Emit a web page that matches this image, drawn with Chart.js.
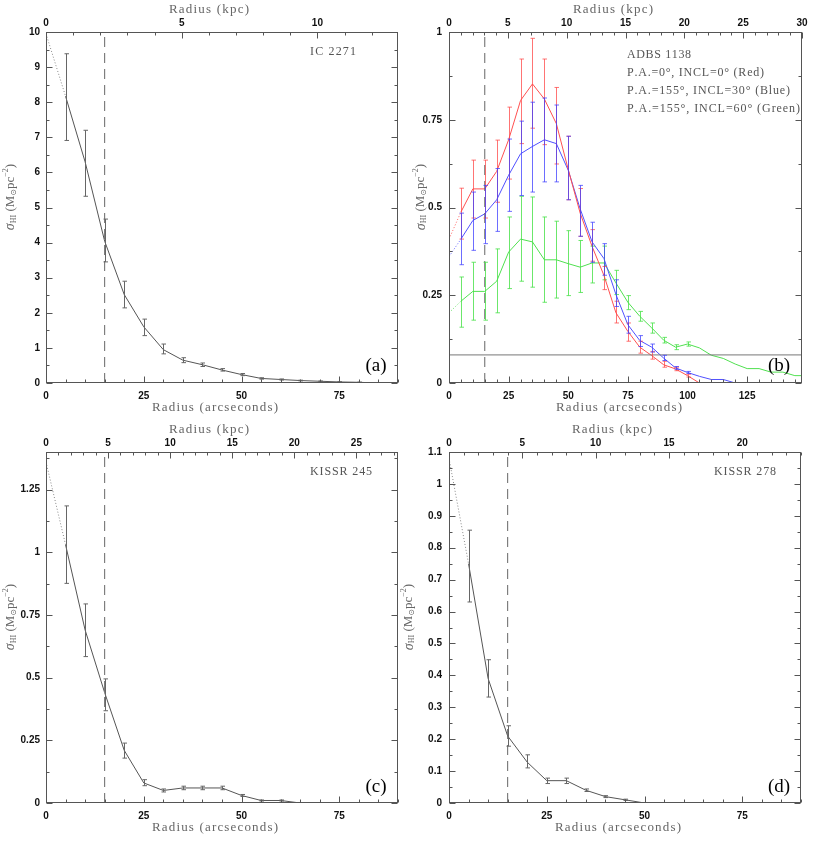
<!DOCTYPE html>
<html><head><meta charset="utf-8">
<script src="https://cdn.jsdelivr.net/npm/chart.js@4"></script>
<style>
html,body{margin:0;padding:0;background:#fff;}
#wrap{position:relative;width:830px;height:841px;overflow:hidden;background:#fff;}
canvas{position:absolute;left:0;top:0;}
</style></head><body><div id="wrap">
<canvas id="ca" width="830" height="841"></canvas>
<canvas id="cb" width="830" height="841"></canvas>
<canvas id="cc" width="830" height="841"></canvas>
<canvas id="cd" width="830" height="841"></canvas>
</div>
<script>
// ---------------- DATA ----------------
// Panel (a) IC 2271
const radA = [5,10,15,20,25,30,35,40,45,50,55,60,65,70,75,80,85];
const sigA = [8.17,6.3,4.04,2.52,1.6,0.95,0.65,0.52,0.37,0.24,0.13,0.10,0.07,0.05,0.03,0.02,0.0];
const loA  = [6.91,5.32,3.45,2.14,1.35,0.83,0.58,0.47,0.34,0.21,0.11,0.085,0.06,0.045,0.025,0.015,null];
const hiA  = [9.38,7.2,4.67,2.9,1.82,1.11,0.72,0.57,0.41,0.27,0.15,0.115,0.08,0.055,0.035,0.025,null];
const extRad = [0,5];
const extA = [9.95,8.17];

// Panel (b) ADBS 1138
const radRedB = [5,10,15,20,25,30,35,40,45,50,55,60,65,70,75,80,85,90,95,100,105];
const redB   = [0.487,0.553,0.553,0.603,0.693,0.805,0.852,0.809,0.739,0.608,0.484,0.389,0.306,0.2,0.147,0.102,0.078,0.052,0.04,0.021,0];
const redLoB = [0.41,0.47,0.47,0.515,0.581,0.682,0.726,0.679,0.624,0.522,0.418,0.347,0.266,0.171,0.119,0.085,0.068,0.045,0.035,0.017,null];
const redHiB = [0.555,0.635,0.635,0.692,0.786,0.923,0.982,0.923,0.842,0.703,0.554,0.437,0.332,0.233,0.171,0.119,0.09,0.062,0.045,0.025,null];
const radBlueB = [5,10,15,20,25,30,35,40,45,50,55,60,65,70,75,80,85,90,95,100,105,110,115,120];
const blueB   = [0.41,0.463,0.482,0.522,0.592,0.653,0.674,0.693,0.682,0.606,0.496,0.402,0.354,0.252,0.166,0.121,0.102,0.071,0.043,0.03,0.019,0.01,0.01,0];
const blueLoB = [0.337,0.378,0.397,0.432,0.489,0.534,0.544,0.573,0.573,0.522,0.418,0.344,0.307,0.218,0.142,0.104,0.088,0.064,0.039,0.027,null,null,null,null];
const blueHiB = [0.484,0.544,0.563,0.611,0.695,0.746,0.8,0.812,0.792,0.703,0.563,0.458,0.397,0.294,0.19,0.135,0.111,0.079,0.047,0.033,null,null,null,null];
const radGreenB = [5,10,15,20,25,30,35,40,45,50,55,60,65,70,75,80,85,90,95,100,105,110,115,120,125,130,135,140,145,150];
const greenB   = [0.233,0.261,0.261,0.29,0.373,0.41,0.402,0.351,0.351,0.34,0.33,0.342,0.342,0.285,0.23,0.19,0.157,0.122,0.102,0.111,0.1,0.079,0.07,0.054,0.041,0.041,0.031,0.031,0.021,0.021];
const greenLoB = [0.159,0.179,0.179,0.2,0.269,0.29,0.273,0.23,0.242,0.249,0.258,0.285,0.294,0.252,0.209,0.176,0.142,0.114,0.095,0.105,null,null,null,null,null,null,null,null,null,null];
const greenHiB = [0.302,0.344,0.344,0.382,0.473,0.532,0.53,0.473,0.461,0.434,0.406,0.39,0.39,0.321,0.249,0.204,0.171,0.13,0.109,0.117,null,null,null,null,null,null,null,null,null,null];
const extRedB = [0.41,0.487];
const extBlueB = [0.36,0.41];
const extGreenB = [0.2,0.233];
const limitB = 0.08;

// Panel (c) KISSR 245
const radC = [5,10,15,20,25,30,35,40,45,50,55,60,65];
const sigC = [1.03,0.69,0.44,0.21,0.08,0.05,0.06,0.06,0.06,0.03,0.01,0.01,0.0];
const loC  = [0.876,0.584,0.368,0.179,0.069,0.044,0.053,0.053,0.053,0.026,0.008,0.008,null];
const hiC  = [1.185,0.794,0.495,0.239,0.093,0.056,0.067,0.067,0.067,0.034,0.012,0.012,null];
const extC = [1.36,1.03];

// Panel (d) KISSR 278
const radD = [5,10,15,20,25,30,35,40,45,50];
const sigD = [0.75,0.39,0.21,0.128,0.07,0.07,0.04,0.02,0.01,0.0];
const loD  = [0.63,0.332,0.178,0.11,0.061,0.061,0.036,0.017,0.008,null];
const hiD  = [0.855,0.449,0.242,0.151,0.078,0.078,0.044,0.023,0.012,null];
const extD = [1.08,0.75];

// beam-size marker (arcsec)
const beamRadius = 15;

// tick labels
const arcTicks = [0,25,50,75];
const arcTicksB = [0,25,50,75,100,125];
const kpcTicksA = [0,5,10];
const kpcTicksB = [0,5,10,15,20,25,30];
const kpcTicksC = [0,5,10,15,20,25];
const kpcTicksD = [0,5,10,15,20];
const yTicksA = [0,1,2,3,4,5,6,7,8,9,10];
const yTicksB = [0,0.25,0.5,0.75,1];
const yTicksC = [0,0.25,0.5,0.75,1,1.25];
const yTicksD = [0,0.1,0.2,0.3,0.4,0.5,0.6,0.7,0.8,0.9,1,1.1];

// ---------------- RENDERING ----------------
const FRAME = '#555';
const TXT = '#666';
const SERIF = "'Liberation Serif','DejaVu Serif',serif";
const SANS = "'Liberation Sans',Arial,sans-serif";

function pts(xs, ys){ return xs.map((x,i)=>({x:x, y:ys[i]})); }
function range(a,b,s){ const r=[]; for(let v=a; v<=b+1e-9; v+=s) r.push(+v.toFixed(6)); return r; }

function drawFit(ctx, text, x, y, font, width, align){
  ctx.font = font;
  const ch = [...text];
  const ws = ch.map(c=>ctx.measureText(c).width);
  const nat = ws.reduce((a,b)=>a+b,0);
  const sp = ch.length>1 ? (width-nat)/(ch.length-1) : 0;
  let cx = align==='center' ? x-width/2 : x;
  ctx.textAlign='left'; ctx.textBaseline='middle';
  ch.forEach((c,i)=>{ ctx.fillText(c,cx,y); cx += ws[i]+sp; });
}

function drawYTitle(ctx, cx, cy){
  const segs = [
    {t:'σ', f:'italic 14px '+SERIF, dy:0},
    {t:'HI', f:'8px '+SERIF, dy:3},
    {t:' (M', f:'13px '+SERIF, dy:0},
    {t:'⊙', f:'8px DejaVu Sans', dy:3},
    {t:'pc', f:'13px '+SERIF, dy:0},
    {t:'−2', f:'8px '+SERIF, dy:-5},
    {t:')', f:'13px '+SERIF, dy:0}
  ];
  let total = 0;
  segs.forEach(s=>{ ctx.font=s.f; s.w=ctx.measureText(s.t).width; total+=s.w; });
  ctx.save();
  ctx.translate(cx,cy); ctx.rotate(-Math.PI/2);
  ctx.fillStyle = TXT; ctx.textAlign='left'; ctx.textBaseline='middle';
  let x = -total/2;
  segs.forEach(s=>{ ctx.font=s.f; ctx.fillText(s.t,x,s.dy); x+=s.w; });
  ctx.restore();
}

function makePanel(id, sp){
  const plugin = {
    id: 'panel_'+id,
    afterDatasetsDraw(chart){
      const ctx = chart.ctx, xs = chart.scales.x, ys = chart.scales.y;
      ctx.save();
      ctx.lineWidth = 1;
      sp.errors.forEach(e=>{
        ctx.strokeStyle = e.color;
        e.x.forEach((xv,i)=>{
          if (e.lo[i]==null) return;
          const px = Math.round(xs.getPixelForValue(xv))+0.5;
          const y1 = ys.getPixelForValue(e.lo[i]), y2 = ys.getPixelForValue(e.hi[i]);
          ctx.beginPath();
          ctx.moveTo(px,y1); ctx.lineTo(px,y2);
          ctx.moveTo(px-2,y1); ctx.lineTo(px+2.5,y1);
          ctx.moveTo(px-2,y2); ctx.lineTo(px+2.5,y2);
          ctx.stroke();
        });
      });
      ctx.restore();
    },
    afterDraw(chart){
      const ctx = chart.ctx, a = chart.chartArea;
      const xs = chart.scales.x, x2 = chart.scales.x2, ys = chart.scales.y;
      const L = Math.round(a.left)+0.5, R = Math.round(a.right)-0.5, T = Math.round(a.top)+0.5, B = Math.round(a.bottom)-0.5;
      ctx.save();
      ctx.strokeStyle = FRAME; ctx.lineWidth = 1;
      ctx.strokeRect(L, T, R-L, B-T);
      ctx.beginPath();
      // bottom arcsec ticks
      range(0, sp.xMax, 5).forEach(v=>{
        const p = Math.round(xs.getPixelForValue(v))+0.5;
        const len = (v%25===0)?6:3;
        ctx.moveTo(p,B); ctx.lineTo(p,B-len);
      });
      // top kpc ticks
      range(0, sp.kpcMax, 1).forEach(v=>{
        const p = Math.round(x2.getPixelForValue(v))+0.5;
        const len = (v%5===0)?6:3;
        ctx.moveTo(p,T); ctx.lineTo(p,T+len);
      });
      // y ticks left/right
      range(0, sp.yMax, sp.yMinor).forEach(v=>{
        const p = Math.round(ys.getPixelForValue(v))+0.5;
        const maj = Math.abs(v/sp.yMajor - Math.round(v/sp.yMajor))<1e-6;
        const len = maj?6:3;
        ctx.moveTo(L,p); ctx.lineTo(L+len,p);
        ctx.moveTo(R,p); ctx.lineTo(R-len,p);
      });
      ctx.stroke();
      // titles
      ctx.fillStyle = TXT;
      drawFit(ctx,'Radius (arcseconds)', sp.botTitle[0], sp.botTitle[1], '13px '+SERIF, 126, 'center');
      drawFit(ctx,'Radius (kpc)', sp.topTitle[0], sp.topTitle[1], '13px '+SERIF, 80, 'center');
      drawYTitle(ctx, sp.yTitle[0], sp.yTitle[1]);
      ctx.fillStyle = '#555';
      sp.notes.forEach(n=>drawFit(ctx, n.t, n.x, n.y, '12px '+SERIF, n.w, 'left'));
      ctx.fillStyle = '#000';
      ctx.font = '19px '+SERIF; ctx.textAlign='center'; ctx.textBaseline='middle';
      ctx.fillText(sp.tag, sp.tagPos[0], sp.tagPos[1]);
      ctx.restore();
    }
  };
  const tickFont = {family: SANS, size: 10, weight: 'bold'};
  const fmt = v => String(v);
  return new Chart(document.getElementById(id), {
    type: 'line',
    data: { datasets: sp.datasets },
    options: {
      responsive: false, animation: false, devicePixelRatio: 1,
      layout: { padding: { left: sp.L-40, right: 830-sp.R, top: sp.T-20, bottom: 841-sp.B-20 } },
      plugins: { legend: {display:false}, tooltip: {enabled:false} },
      elements: { point: {radius:0}, line: {tension:0, borderWidth:1} },
      scales: {
        x: { type:'linear', position:'bottom', min:0, max:sp.xMax,
             grid:{display:false, drawTicks:false}, border:{display:false},
             afterBuildTicks: s=>{ s.ticks = sp.xTicks.map(v=>({value:v})); },
             afterFit: s=>{ s.height = 20; },
             ticks:{ font:tickFont, color:'#111', padding:7, maxRotation:0, autoSkip:false, callback:fmt } },
        x2:{ type:'linear', position:'top', min:0, max:sp.kpcMax,
             grid:{display:false, drawTicks:false}, border:{display:false},
             afterBuildTicks: s=>{ s.ticks = sp.kpcTicks.map(v=>({value:v})); },
             afterFit: s=>{ s.height = 20; },
             ticks:{ font:tickFont, color:'#111', padding:3, maxRotation:0, autoSkip:false, callback:fmt } },
        y: { type:'linear', position:'left', min:0, max:sp.yMax,
             grid:{display:false, drawTicks:false}, border:{display:false},
             afterBuildTicks: s=>{ s.ticks = sp.yTicks.map(v=>({value:v})); },
             afterFit: s=>{ s.width = 40; },
             ticks:{ font:tickFont, color:'#111', padding:sp.yPad, autoSkip:false, callback:fmt } }
      }
    },
    plugins: [plugin]
  });
}

function beam(yMax){ return {data: pts([beamRadius,beamRadius],[0,yMax]), borderColor:'#666', borderDash:[10,6], borderWidth:1, pointRadius:0}; }
function solid(x,y,c){ return {data: pts(x,y), borderColor:c, borderWidth:1, pointRadius:0}; }
function dotted(y,c){ return {data: pts(extRad,y), borderColor:c, borderDash:[1,2], borderWidth:1, pointRadius:0}; }

const GREY = '#555';
makePanel('ca', {
  L:46, R:398, T:32, B:383, xMax:90, kpcMax:12.97, yMax:10, yMajor:1, yMinor:0.5, yPad:6,
  xTicks:arcTicks, kpcTicks:kpcTicksA, yTicks:yTicksA,
  datasets:[ beam(10), dotted(extA,'#888'), solid(radA,sigA,GREY) ],
  errors:[ {x:radA, lo:loA, hi:hiA, color:'#666'} ],
  botTitle:[215,408], topTitle:[209,10], yTitle:[10.5,197],
  notes:[{t:'IC 2271', x:310, y:52, w:46}], tag:'(a)', tagPos:[376,366]
});
makePanel('cb', {
  L:449, R:802, T:32, B:383, xMax:148, kpcMax:30, yMax:1, yMajor:0.25, yMinor:0.125, yPad:7,
  xTicks:arcTicksB, kpcTicks:kpcTicksB, yTicks:yTicksB,
  datasets:[ beam(1),
    {data: pts([0,150],[limitB,limitB]), borderColor:'#777', borderWidth:1, pointRadius:0},
    dotted(extRedB,'#ff6060'), dotted(extBlueB,'#6060ff'), dotted(extGreenB,'#60e060'),
    solid(radRedB,redB,'#ff5050'), solid(radBlueB,blueB,'#5050ff'), solid(radGreenB,greenB,'#50e050') ],
  errors:[ {x:radGreenB, lo:greenLoB, hi:greenHiB, color:'rgba(70,225,70,0.8)'},
           {x:radRedB, lo:redLoB, hi:redHiB, color:'rgba(255,70,70,0.75)'},
           {x:radBlueB, lo:blueLoB, hi:blueHiB, color:'rgba(60,60,255,0.75)'} ],
  botTitle:[619,408], topTitle:[613,10], yTitle:[421,197],
  notes:[{t:'ADBS 1138', x:627, y:55, w:64},
         {t:'P.A.=0°, INCL=0° (Red)', x:627, y:73, w:137},
         {t:'P.A.=155°, INCL=30° (Blue)', x:627, y:91, w:163},
         {t:'P.A.=155°, INCL=60° (Green)', x:627, y:108.5, w:173}],
  tag:'(b)', tagPos:[779,366]
});
makePanel('cc', {
  L:46, R:398, T:452, B:803, xMax:90, kpcMax:28.35, yMax:1.4, yMajor:0.25, yMinor:0.125, yPad:6,
  xTicks:arcTicks, kpcTicks:kpcTicksC, yTicks:yTicksC,
  datasets:[ beam(1.4), dotted(extC,'#888'), solid(radC,sigC,GREY) ],
  errors:[ {x:radC, lo:loC, hi:hiC, color:'#666'} ],
  botTitle:[215,828], topTitle:[209,430], yTitle:[10.5,617],
  notes:[{t:'KISSR 245', x:310, y:472, w:62}], tag:'(c)', tagPos:[376,787]
});
makePanel('cd', {
  L:449, R:801, T:452, B:803, xMax:90, kpcMax:24, yMax:1.1, yMajor:0.1, yMinor:0.05, yPad:7,
  xTicks:arcTicks, kpcTicks:kpcTicksD, yTicks:yTicksD,
  datasets:[ beam(1.1), dotted(extD,'#888'), solid(radD,sigD,GREY) ],
  errors:[ {x:radD, lo:loD, hi:hiD, color:'#666'} ],
  botTitle:[618,828], topTitle:[612,430], yTitle:[409,617],
  notes:[{t:'KISSR 278', x:714, y:472, w:62}], tag:'(d)', tagPos:[779,787]
});
</script>
</body></html>
